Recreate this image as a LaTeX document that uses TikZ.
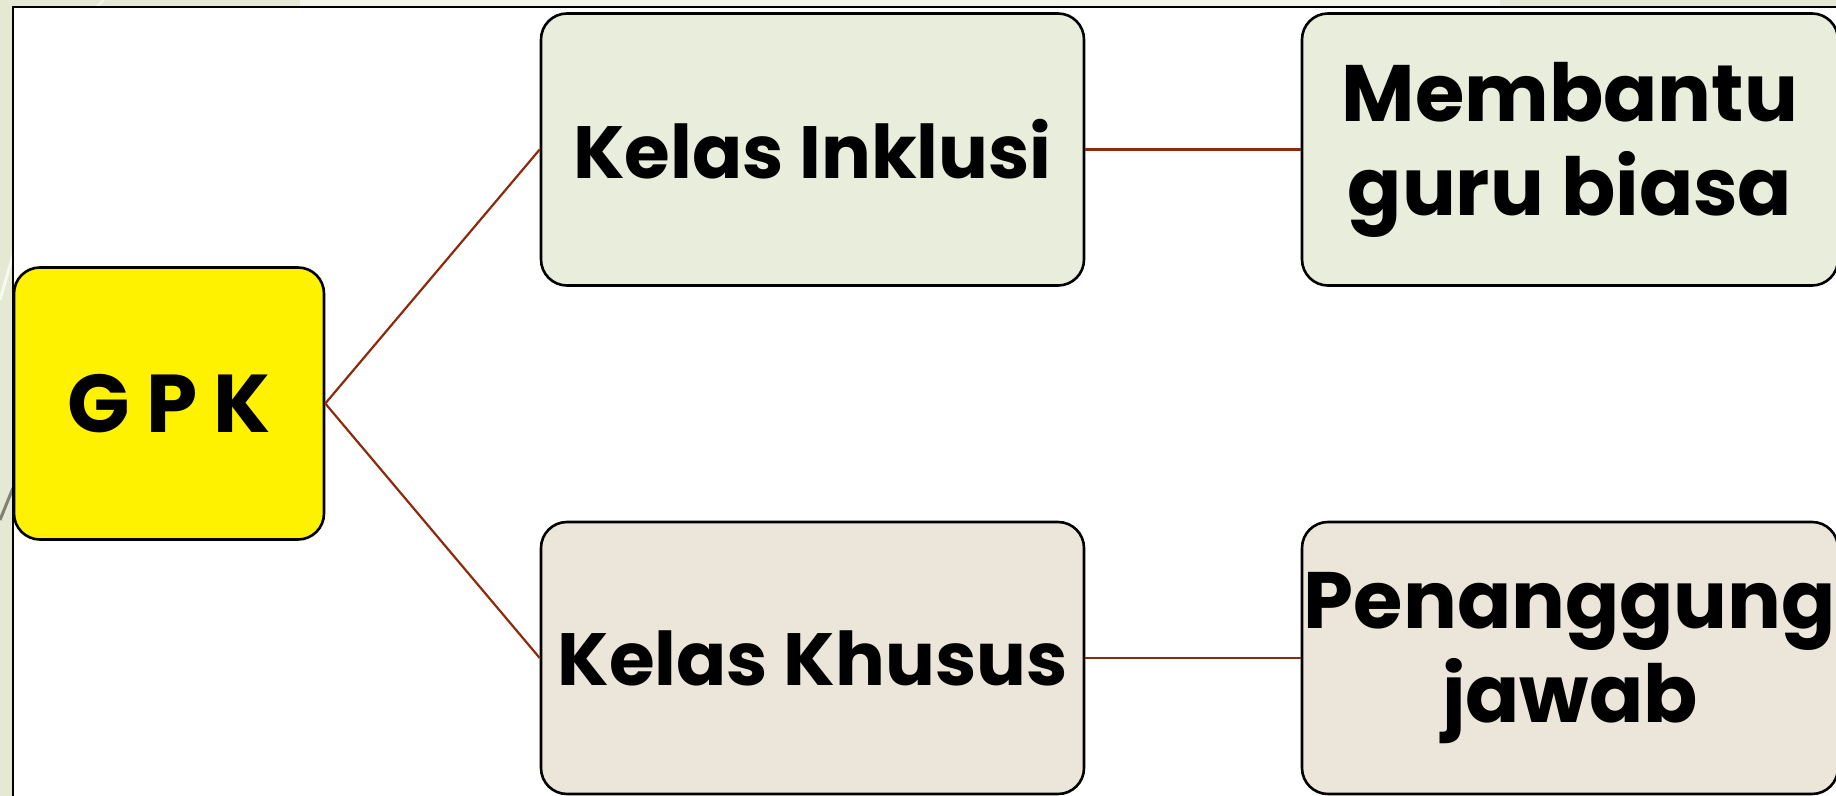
\documentclass[tikz,border=0pt]{standalone}
\usepackage{fontspec}
\setmainfont{Poppins}
\definecolor{slidebg}{HTML}{E5E9D3}
\definecolor{linkred}{HTML}{8E2A0C}
\definecolor{greenbox}{HTML}{E9EDDB}
\definecolor{sandbox}{HTML}{ECE6DA}
\tikzset{
    box/.style={draw=black, line width=1.3pt, rounded corners=13pt, align=center,
        inner sep=0pt, minimum width=271.5pt, minimum height=136pt},
    link/.style={draw=linkred, line width=1.1pt},
}

\begin{document}
\begin{tikzpicture}[x=0.5pt, y=-0.5pt]
    \useasboundingbox (0,0) rectangle (1836,796);
    % slide background and theme strokes
    \fill[slidebg] (0,0) rectangle (1836,796);
    \fill[white!55!slidebg] (300,0) rectangle (1500,7);
    \draw[white!70!slidebg, line width=1.5pt] (0,300) -- (13,255);
    \draw[black!45!slidebg, line width=1.5pt] (0,520) -- (13,488);
    \draw[white!60!slidebg, line width=1pt] (96,7) -- (104,0);
    % frame
    \fill[white] (13,7) rectangle (1850,810);
    \draw[line width=1.1pt] (13,810) -- (13,7) -- (1850,7);

    % nodes
    \node[box, fill=yellow, minimum width=155pt, font=\fontsize{41}{44}\selectfont\bfseries]
        (gpk) at (169,403.5) {G\hspace{0.2em}P\hspace{0.2em}K};
    \node[box, fill=greenbox, font=\fontsize{37}{42}\selectfont\bfseries]
        (inklusi) at (812.5,149.5) {Kelas Inklusi};
    \node[box, fill=sandbox, font=\fontsize{37}{42}\selectfont\bfseries]
        (khusus) at (812.5,658) {Kelas Khusus};
    \node[box, fill=greenbox, minimum width=268pt, font=\fontsize{40}{47}\selectfont\bfseries]
        (bantu) at (1570,149.5) {Membantu\\guru biasa};
    \node[box, fill=sandbox, minimum width=268pt, font=\fontsize{40}{47}\selectfont\bfseries]
        (jawab) at (1570,658) {Penanggung\\jawab};

    % connectors
    \draw[link] (gpk.east) -- (inklusi.west);
    \draw[link] (gpk.east) -- (khusus.west);
    \draw[link] (inklusi.east) -- (bantu.west);
    \draw[link] (khusus.east) -- (jawab.west);
\end{tikzpicture}
\end{document}
